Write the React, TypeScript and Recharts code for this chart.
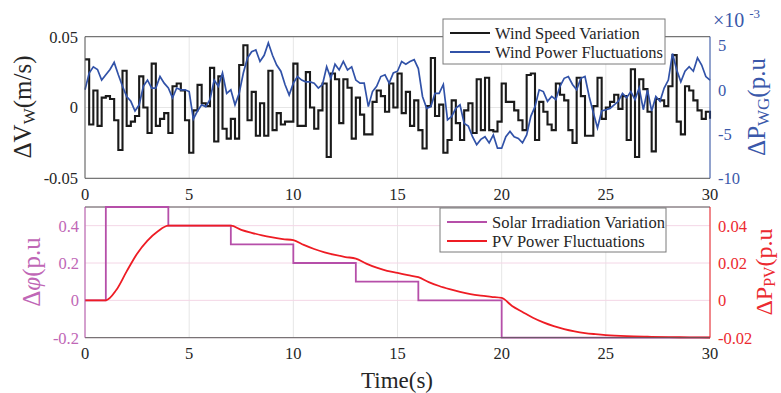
// Wind / PV fluctuation figure: two stacked panels with dual y axes
import React from "react";
import {
  LineChart,
  Line,
  XAxis,
  YAxis,
  CartesianGrid,
  ReferenceLine,
} from "recharts";

const FONT = '"Liberation Serif", "DejaVu Serif", serif';

const theme = {
  text: "#262626",
  border: "#5a5a5a",
  grid: "#e6e6e6",
  pinkGrid: "#f4d6e6",
  black: "#1a1a1a",
  blue: "#3152a8",
  blueText: "#3a58aa",
  magenta: "#b64fa9",
  magentaText: "#c067b6",
  red: "#ee1c24",
  redText: "#ec2a30",
};

// top panel: sampled every 0.2 s
const windStep = 0.2;
// wind speed variation, x10^-3 m/s
const windSpeed = [
  34, -12, 12, -13, 7, 8, 6, -9, -30, 26, -13, -10, -6, 22, 0, -18, 31, -13, -8, -4, -18, 15, 17, 12, -9, -32, -2, 16, 3, 1,
  28, -24, 22, -15, -22, -8, -22, 30, 44, -9, 11, -20, 3, -20, 26, -16, -4, -12, -10, -10, 31, -13, -13, 25, 0, -15, -2, 17, -35, 24,
  20, -11, 20, 14, -22, 7, -5, -19, -19, 4, 12, 8, -3, 17, 0, 24, -4, 11, -13, 5, -16, -29, 1, 35, -6, 2, -32, -23, 5, -11,
  -23, -2, 3, -18, 20, -16, 21, -16, -17, -10, 17, 4, 4, -2, -9, -16, 23, 24, -23, 4, -3, -12, -16, 17, 9, 5, -16, -25, 21, 8,
  -20, -20, 1, 21, -8, 0, 4, 9, -1, 8, -23, 27, -35, 20, 13, -3, -31, 6, 5, 1, 15, 37, -10, -19, 15, 12, 5, -2, -8, -3, -8,
];
// wind power fluctuations, x10^-3 p.u
const windPower = [
  0, 1.9, 2.6, 2.3, 1.1, 1.7, 2.3, 3.1, 1.7, 0.4, -0.75, -1.3, -2.4, -1.7, 0.4, 1.1, 0.2, 0.2, 1.5, 0.75, 0.2, -0.9, 0.2, 0, 0, -0.2, -3.3, -2.4, -1.7, -1.9,
  -1.1, 1.1, 0.4, 1.9, -0.4, 0, -1.7, -0.4, 1.9, 3.6, 4.3, 4.5, 3.2, 3.9, 5.3, 3.9, 2.8, 2.1, 0.6, -0.6, 0.75, 1.5, 1.1, 0.9, 0.9, 0.75, 0.2, 0.6, 2.6, 1.3,
  2.9, 2.25, 3.2, 2.25, 2.6, 1.1, 0.75, 0.75, -1.9, -0.2, 0.4, 1.5, 1.7, 0.75, 1.9, 2.1, 3.2, 2.9, 3.2, 3.4, 2.4, -0.75, -2.1, -1.9, -0.4, -0.4, 0.6, -3.4, -3.0, -2.1,
  -1.7, -3.8, -4.1, -5.3, -6.2, -5.6, -5.3, -6.0, -5.1, -6.6, -6.6, -5.3, -4.7, -5.3, -5.5, -6.0, -5.1, -3.0, -1.9, 0, -0.2, -1.3, -0.75, -1.1, 0.4, 1.3, 1.5, 0.6, 0, 1.3,
  1.5, -0.75, -2.6, -4.3, -2.4, -2.25, -2.1, -1.7, -1.3, -0.4, -0.9, -0.2, -1.1, 0.2, -2.25, 0, -2.4, -0.75, -1.3, 0.2, 1.1, 4.1, 2.25, 0.9, 2.1, 2.6, 2.1, 3.6, 2.8, 1.5, 1.1,
];

// bottom panel
const solarTime = [0, 1, 4, 7, 10, 13, 16, 20, 30];
const solarValue = [0, 0.5, 0.4, 0.3, 0.2, 0.1, 0, -0.2, -0.2];
const pvTime = [
  0, 1, 1.5, 2, 2.5, 3, 3.5, 4, 7, 7.5, 8, 8.5, 9, 9.5, 10, 10.5, 11, 11.5, 12, 12.5, 13, 13.5, 14, 14.5, 15,
  15.5, 16, 16.5, 17, 17.5, 18, 18.5, 19, 19.5, 20, 20.5, 21, 21.5, 22, 22.5, 23, 23.5, 24, 24.5, 25, 26, 27, 28, 29, 30,
];
const pvValue = [
  0, 0, 0.0055, 0.0155, 0.025, 0.032, 0.037, 0.04, 0.04, 0.0378, 0.0362, 0.0348, 0.0337, 0.0328, 0.0322, 0.0297, 0.0275,
  0.0257, 0.0243, 0.0232, 0.0224, 0.0197, 0.0175, 0.0158, 0.0147, 0.0135, 0.0124, 0.0098, 0.0077, 0.006, 0.0045, 0.0033,
  0.0025, 0.0019, 0.0013, -0.003, -0.0062, -0.0093, -0.0118, -0.0138, -0.0154, -0.0166, -0.0175, -0.0181, -0.0186,
  -0.0192, -0.0195, -0.0197, -0.0198, -0.0199,
];

const timeTicks = [0, 5, 10, 15, 20, 25, 30];
const windLeftTicks = [-0.05, 0, 0.05];
const windRightTicks = [-10, -5, 0, 5];
const solarTicks = [-0.2, 0, 0.2, 0.4];
const pvTicks = [-0.02, 0, 0.02, 0.04];

const windData = windSpeed.map((v, i) => ({
  t: +(i * windStep).toFixed(1),
  speed: v / 1000,
  power: windPower[i],
}));
const solarData = solarTime.map((t, i) => ({ t, solar: solarValue[i] }));
const pvData = pvTime.map((t, i) => ({ t, pv: pvValue[i] }));

const tickStyle = (fill: string) => ({ fill, fontSize: 16.5, fontFamily: FONT });
const fmt = (d: number) => (v: number) => (v === 0 ? "0" : v.toFixed(d));

const LegendBox = ({
  x,
  y,
  w,
  h,
  items,
}: {
  x: number;
  y: number;
  w: number;
  h: number;
  items: { label: string; color: string }[];
}) => (
  <g>
    <rect x={x} y={y} width={w} height={h} fill="#fff" stroke="#7a7a7a" strokeWidth={1} />
    {items.map((it, i) => {
      const cy = y + 14 + i * 19;
      return (
        <g key={it.label}>
          <line x1={x + 7} x2={x + 47} y1={cy} y2={cy} stroke={it.color} strokeWidth={2} />
          <text x={x + 52} y={cy + 5.5} fontSize={16.5} fill={theme.text} fontFamily={FONT}>
            {it.label}
          </text>
        </g>
      );
    })}
  </g>
);

export default function App() {
  return (
    <div
      style={{
        position: "absolute",
        left: 0,
        top: 0,
        width: 781,
        height: 393,
        background: "#fff",
        fontFamily: FONT,
      }}
    >
      <style>{`.chart-root text, .chart-root tspan { font-family: ${FONT} !important; }`}</style>
      <div className="chart-root" style={{ position: "absolute", left: 0, top: 0 }}>
        <LineChart
          width={781}
          height={215}
          data={windData}
          margin={{ top: 36.7, right: 0, left: 0, bottom: 6.7 }}
        >
          <CartesianGrid yAxisId="left" stroke={theme.grid} />
          <XAxis
            dataKey="t"
            type="number"
            domain={[0, 30]}
            ticks={timeTicks}
            height={30}
            tickLine={false}
            tickSize={5}
            tickMargin={5}
            axisLine={{ stroke: theme.border }}
            tick={tickStyle(theme.text)}
          />
          <YAxis
            yAxisId="left"
            width={85}
            domain={[-0.05, 0.05]}
            ticks={windLeftTicks}
            tickFormatter={fmt(2)}
            tickLine={false}
            tickSize={5}
            tickMargin={2}
            axisLine={{ stroke: theme.border }}
            tick={tickStyle(theme.text)}
          />
          <YAxis
            yAxisId="right"
            orientation="right"
            width={71}
            domain={[-10, 6]}
            ticks={windRightTicks}
            tickLine={false}
            tickSize={5}
            tickMargin={3}
            axisLine={{ stroke: theme.blue }}
            tick={tickStyle(theme.blueText)}
          />
          <ReferenceLine yAxisId="left" y={0.05} stroke={theme.border} />
          <Line
            yAxisId="left"
            dataKey="speed"
            type="stepAfter"
            stroke={theme.black}
            strokeWidth={2.1}
            dot={false}
            isAnimationActive={false}
          />
          <Line
            yAxisId="right"
            dataKey="power"
            type="linear"
            stroke={theme.blue}
            strokeWidth={1.7}
            dot={false}
            isAnimationActive={false}
          />
        </LineChart>
      </div>

      <div className="chart-root" style={{ position: "absolute", left: 0, top: 195 }}>
        <LineChart width={781} height={198} margin={{ top: 12, right: 0, left: 0, bottom: 25.3 }}>
          <CartesianGrid yAxisId="left" horizontal={false} stroke={theme.grid} />
          <CartesianGrid yAxisId="left" vertical={false} stroke={theme.pinkGrid} />
          <XAxis
            dataKey="t"
            type="number"
            domain={[0, 30]}
            ticks={timeTicks}
            height={30}
            tickLine={false}
            tickSize={5}
            tickMargin={5}
            axisLine={{ stroke: theme.border }}
            tick={tickStyle(theme.text)}
          />
          <YAxis
            yAxisId="left"
            width={85}
            domain={[-0.2, 0.5]}
            ticks={solarTicks}
            tickFormatter={fmt(1)}
            tickLine={false}
            tickSize={5}
            tickMargin={1}
            axisLine={{ stroke: theme.magenta }}
            tick={tickStyle(theme.magentaText)}
          />
          <YAxis
            yAxisId="right"
            orientation="right"
            width={71}
            domain={[-0.02, 0.05]}
            ticks={pvTicks}
            tickFormatter={fmt(2)}
            tickLine={false}
            tickSize={5}
            tickMargin={3}
            axisLine={{ stroke: theme.red }}
            tick={tickStyle(theme.redText)}
          />
          <ReferenceLine yAxisId="left" y={0.5} stroke={theme.border} />
          <Line
            yAxisId="left"
            data={solarData}
            dataKey="solar"
            type="stepAfter"
            stroke={theme.magenta}
            strokeWidth={1.8}
            dot={false}
            isAnimationActive={false}
          />
          <Line
            yAxisId="right"
            data={pvData}
            dataKey="pv"
            type="monotone"
            stroke={theme.red}
            strokeWidth={1.8}
            dot={false}
            isAnimationActive={false}
          />
        </LineChart>
      </div>

      <svg
        className="chart-root"
        width={781}
        height={393}
        style={{ position: "absolute", left: 0, top: 0, pointerEvents: "none" }}
      >
        <LegendBox
          x={443}
          y={19}
          w={222}
          h={45}
          items={[
            { label: "Wind Speed Variation", color: theme.black },
            { label: "Wind Power Fluctuations", color: theme.blue },
          ]}
        />
        <LegendBox
          x={440}
          y={208}
          w={226}
          h={44}
          items={[
            { label: "Solar Irradiation Variation", color: theme.magenta },
            { label: "PV Power Fluctuations", color: theme.red },
          ]}
        />

        <text transform="translate(31,107) rotate(-90)" textAnchor="middle" fontSize={25} fill={theme.text}>
          ΔV<tspan dy={4} fontSize={17}>W</tspan>
          <tspan dy={-4}>(m/s)</tspan>
        </text>
        <text transform="translate(765,107) rotate(-90)" textAnchor="middle" fontSize={25} fill={theme.blueText}>
          ΔP<tspan dy={4} fontSize={17}>WG</tspan>
          <tspan dy={-4}>(p.u</tspan>
        </text>
        <text x={713} y={27} fontSize={20} fill={theme.blueText}>
          ×10<tspan dx={5} dy={-9} fontSize={13}>-3</tspan>
        </text>

        <text transform="translate(40,272) rotate(-90)" textAnchor="middle" fontSize={25} fill={theme.magentaText}>
          Δ<tspan fontStyle="italic">φ</tspan>(p.u
        </text>
        <text transform="translate(772,272) rotate(-90)" textAnchor="middle" fontSize={24} fill={theme.redText}>
          ΔP<tspan dy={3} fontSize={16}>PV</tspan>
          <tspan dy={-3}>(p.u</tspan>
        </text>

        <text x={397} y={388} textAnchor="middle" fontSize={23} fill={theme.text}>
          Time(s)
        </text>
      </svg>
    </div>
  );
}
